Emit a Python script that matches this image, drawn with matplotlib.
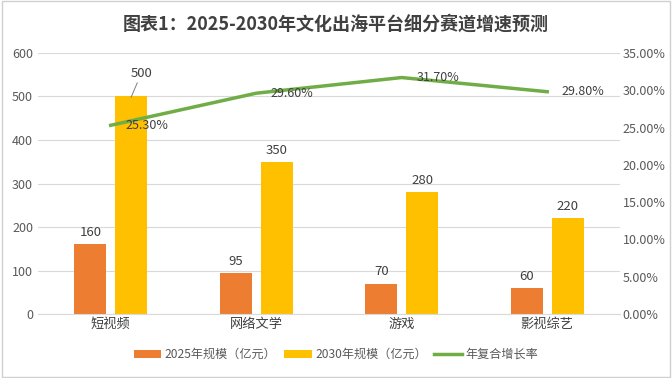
import numpy as np
import matplotlib.pyplot as plt
from matplotlib.patches import Rectangle

plt.rcParams['font.family'] = ['Noto Sans CJK SC', 'DejaVu Sans']

# === DATA ===
categories = ["短视频", "网络文学", "游戏", "影视综艺"]
size_2025 = [160, 95, 70, 60]
size_2030 = [500, 350, 280, 220]
cagr = [25.30, 29.60, 31.70, 29.80]

title = "图表1：2025-2030年文化出海平台细分赛道增速预测"
legend_labels = ["2025年规模（亿元）", "2030年规模（亿元）", "年复合增长率"]

# === STYLE ===
c_2025 = "#ED7D31"
c_2030 = "#FFC000"
c_line = "#70AD47"
txt = "#595959"
grid_c = "#D9D9D9"

fig = plt.figure(figsize=(6.72, 3.78), dpi=100)
fig.patches.append(Rectangle((0.003, 0.003), 0.994, 0.994, transform=fig.transFigure,
                             fill=False, edgecolor="#D0D0D0", linewidth=1))

ax = fig.add_axes([0.0565, 0.169, 0.866, 0.691])
ax2 = ax.twinx()

x = np.arange(len(categories))
w = 0.22
off = 0.14

b1 = ax.bar(x - off, size_2025, w, color=c_2025, zorder=2, label=legend_labels[0])
b2 = ax.bar(x + off, size_2030, w, color=c_2030, zorder=2, label=legend_labels[1])

for xi, v in zip(x - off, size_2025):
    ax.text(xi, v + 12, str(v), ha="center", va="bottom", fontsize=9.5, color="#404040")
for i, (xi, v) in enumerate(zip(x + off, size_2030)):
    if i == 0:
        # leader line for 500 label
        ax.annotate(str(v), xy=(xi, v - 2), xytext=(xi + 0.07, v + 38),
                    ha="center", va="bottom", fontsize=9.5, color="#404040",
                    arrowprops=dict(arrowstyle="-", color="#7F7F7F", lw=0.7,
                                    shrinkA=0, shrinkB=0))
    else:
        ax.text(xi, v + 12, str(v), ha="center", va="bottom", fontsize=9.5, color="#404040")

ax.set_ylim(0, 600)
ax.set_yticks(np.arange(0, 601, 100))
ax.set_xlim(-0.5, len(categories) - 0.5)
ax.set_xticks(x)
ax.set_xticklabels(categories, fontsize=9.5, color="#404040")
ax.grid(axis="y", color=grid_c, linewidth=0.8, zorder=0)
ax.set_axisbelow(True)

ln, = ax2.plot(x, cagr, color=c_line, linewidth=2.5, zorder=3, label=legend_labels[2])
for xi, v in zip(x, cagr):
    ax2.text(xi + 0.1, v, f"{v:.2f}%", ha="left", va="center", fontsize=9, color="#404040")
ax2.set_ylim(0, 35)
ax2.set_yticks(np.arange(0, 36, 5))
ax2.set_yticklabels([f"{t:.2f}%" for t in np.arange(0, 36, 5)])

for a in (ax, ax2):
    for s in a.spines.values():
        s.set_visible(False)
    a.tick_params(axis="y", length=0, labelsize=9, labelcolor=txt)
ax.tick_params(axis="x", length=0, pad=3)
ax.spines["bottom"].set_visible(True)
ax.spines["bottom"].set_color(grid_c)
ax2.tick_params(axis="y", pad=2)

fig.text(0.5, 0.935, title, ha="center", va="center", fontsize=13,
         fontweight="bold", color="#404040")

fig.legend(handles=[b1, b2, ln], labels=legend_labels, loc="center",
           bbox_to_anchor=(0.5, 0.062), ncol=3, frameon=False, fontsize=8.7,
           handlelength=2.3, handleheight=0.6, columnspacing=0.6, handletextpad=0.3,
           labelcolor=txt)

fig.savefig("out.png", dpi=100)
